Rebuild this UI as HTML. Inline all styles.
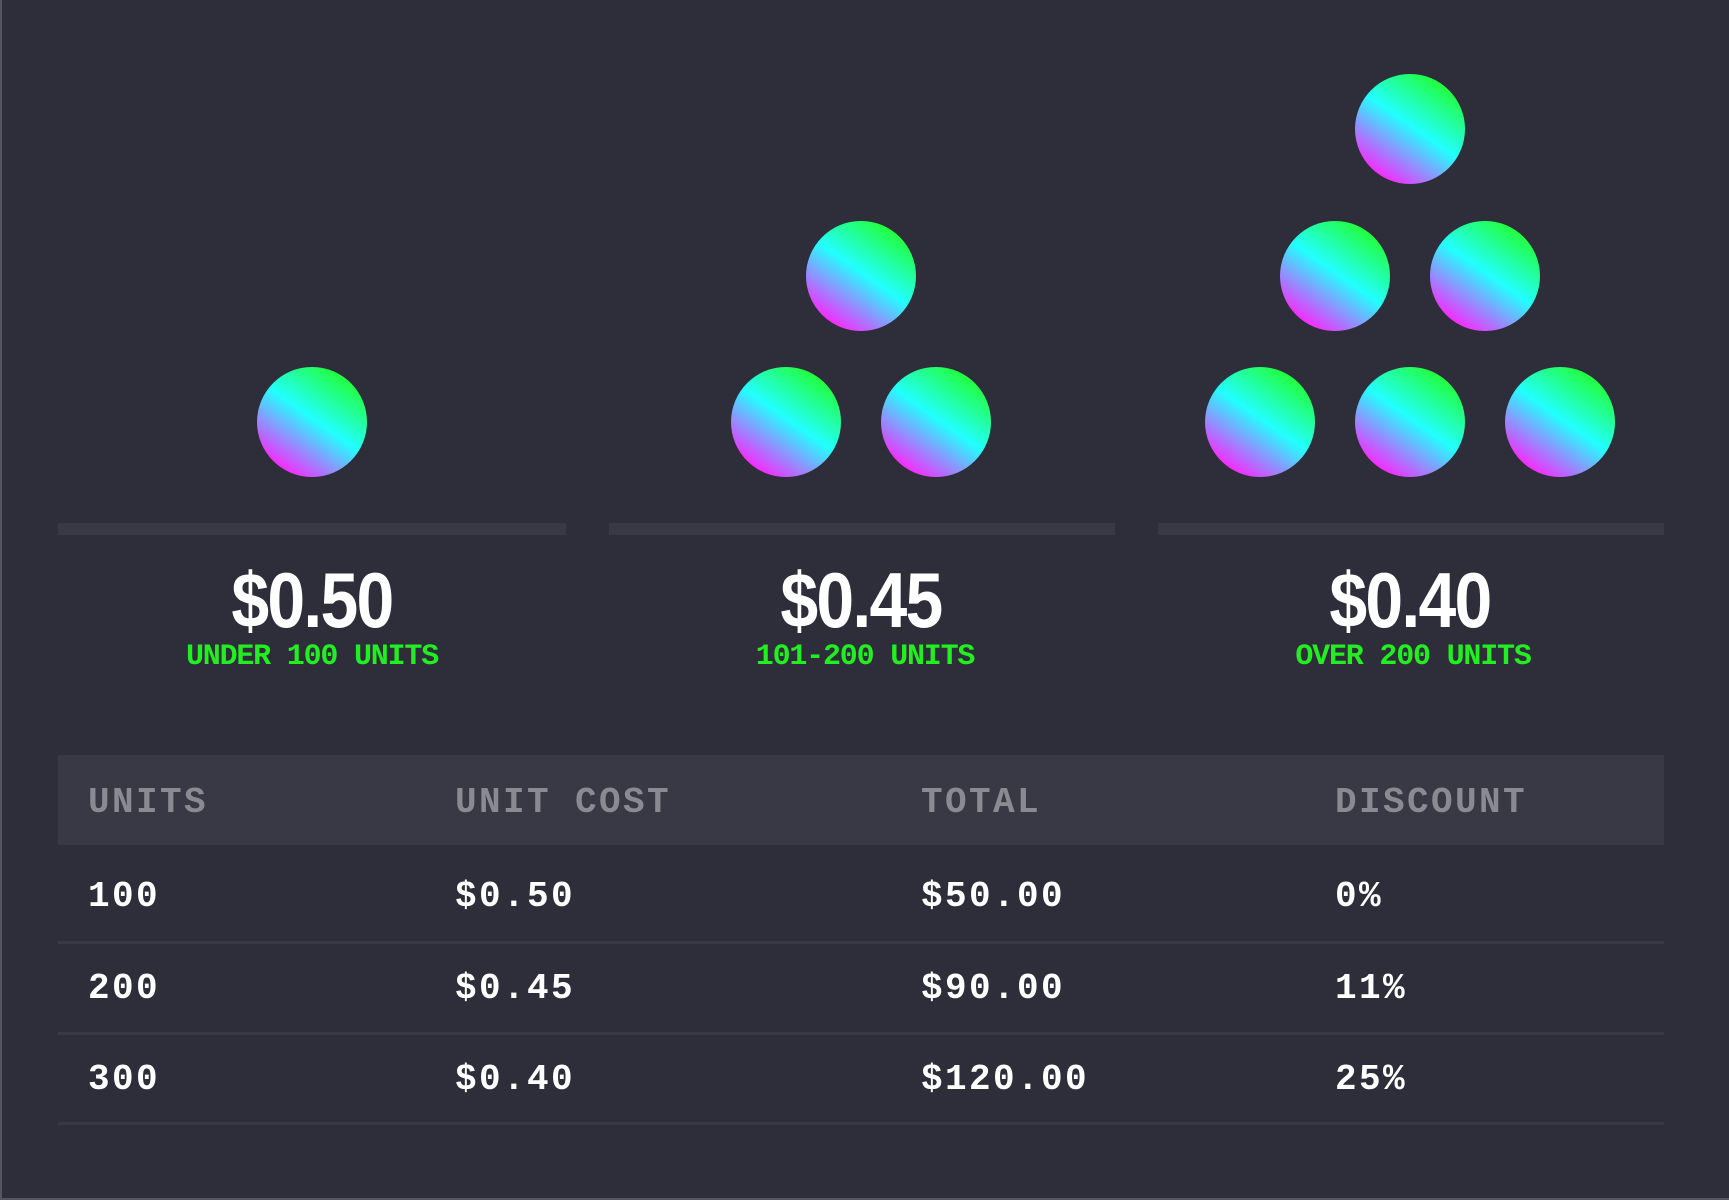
<!DOCTYPE html>
<html><head><meta charset="utf-8"><style>
*{margin:0;padding:0;box-sizing:border-box}
body{width:1729px;height:1200px;background:#2e2e3a;position:relative;overflow:hidden;font-family:"Liberation Sans",sans-serif}
.frame{position:absolute;left:0;top:0;width:1729px;height:1200px;border:2px solid #55555f;border-top:0;border-right:0}
.c{position:absolute;width:110px;height:110px;border-radius:50%;background:linear-gradient(35deg,#ff22ff 12%,#22ffff 52%,#22ff33 88%)}
.bar{position:absolute;top:523px;height:12px;background:#393945}
.price{position:absolute;top:555px;width:500px;text-align:center;color:#fff;font-family:"Liberation Sans Narrow","Liberation Sans",sans-serif;font-weight:bold;font-size:78px;line-height:90px;letter-spacing:-2px;transform:scaleX(0.87)}
.sub{position:absolute;top:640px;width:500px;text-align:center;color:#22ee22;font-family:"Liberation Mono",monospace;font-weight:bold;font-size:30px;line-height:34px;letter-spacing:-1.2px}
.hdr{position:absolute;left:58px;top:755px;width:1606px;height:90px;background:#393945}
.t{position:absolute;font-family:"Liberation Mono",monospace;font-weight:bold;font-size:36px;line-height:40px;letter-spacing:2.4px;color:#fff}
.h{color:#8a8a92}
.div{position:absolute;left:58px;width:1606px;height:3px;background:#393945}
</style></head><body>
<div class="c" style="left:257px;top:367px"></div>
<div class="c" style="left:806px;top:221px"></div>
<div class="c" style="left:731px;top:367px"></div>
<div class="c" style="left:881px;top:367px"></div>
<div class="c" style="left:1355px;top:74px"></div>
<div class="c" style="left:1280px;top:221px"></div>
<div class="c" style="left:1430px;top:221px"></div>
<div class="c" style="left:1205px;top:367px"></div>
<div class="c" style="left:1355px;top:367px"></div>
<div class="c" style="left:1505px;top:367px"></div>

<div class="bar" style="left:58px;width:508px"></div>
<div class="bar" style="left:609px;width:506px"></div>
<div class="bar" style="left:1158px;width:506px"></div>

<div class="price" style="left:62px">$0.50</div>
<div class="price" style="left:611px">$0.45</div>
<div class="price" style="left:1160px">$0.40</div>
<div class="sub" style="left:62px">UNDER 100 UNITS</div>
<div class="sub" style="left:615px">101-200 UNITS</div>
<div class="sub" style="left:1163px">OVER 200 UNITS</div>

<div class="hdr"></div>
<div class="t h" style="left:88px;top:783px">UNITS</div>
<div class="t h" style="left:455px;top:783px">UNIT COST</div>
<div class="t h" style="left:921px;top:783px">TOTAL</div>
<div class="t h" style="left:1335px;top:783px">DISCOUNT</div>

<div class="t" style="left:88px;top:877px">100</div>
<div class="t" style="left:455px;top:877px">$0.50</div>
<div class="t" style="left:921px;top:877px">$50.00</div>
<div class="t" style="left:1335px;top:877px">0%</div>
<div class="div" style="top:941px"></div>

<div class="t" style="left:88px;top:969px">200</div>
<div class="t" style="left:455px;top:969px">$0.45</div>
<div class="t" style="left:921px;top:969px">$90.00</div>
<div class="t" style="left:1335px;top:969px">11%</div>
<div class="div" style="top:1032px"></div>

<div class="t" style="left:88px;top:1060px">300</div>
<div class="t" style="left:455px;top:1060px">$0.40</div>
<div class="t" style="left:921px;top:1060px">$120.00</div>
<div class="t" style="left:1335px;top:1060px">25%</div>
<div class="div" style="top:1122px"></div>
<div class="frame"></div>
</body></html>
